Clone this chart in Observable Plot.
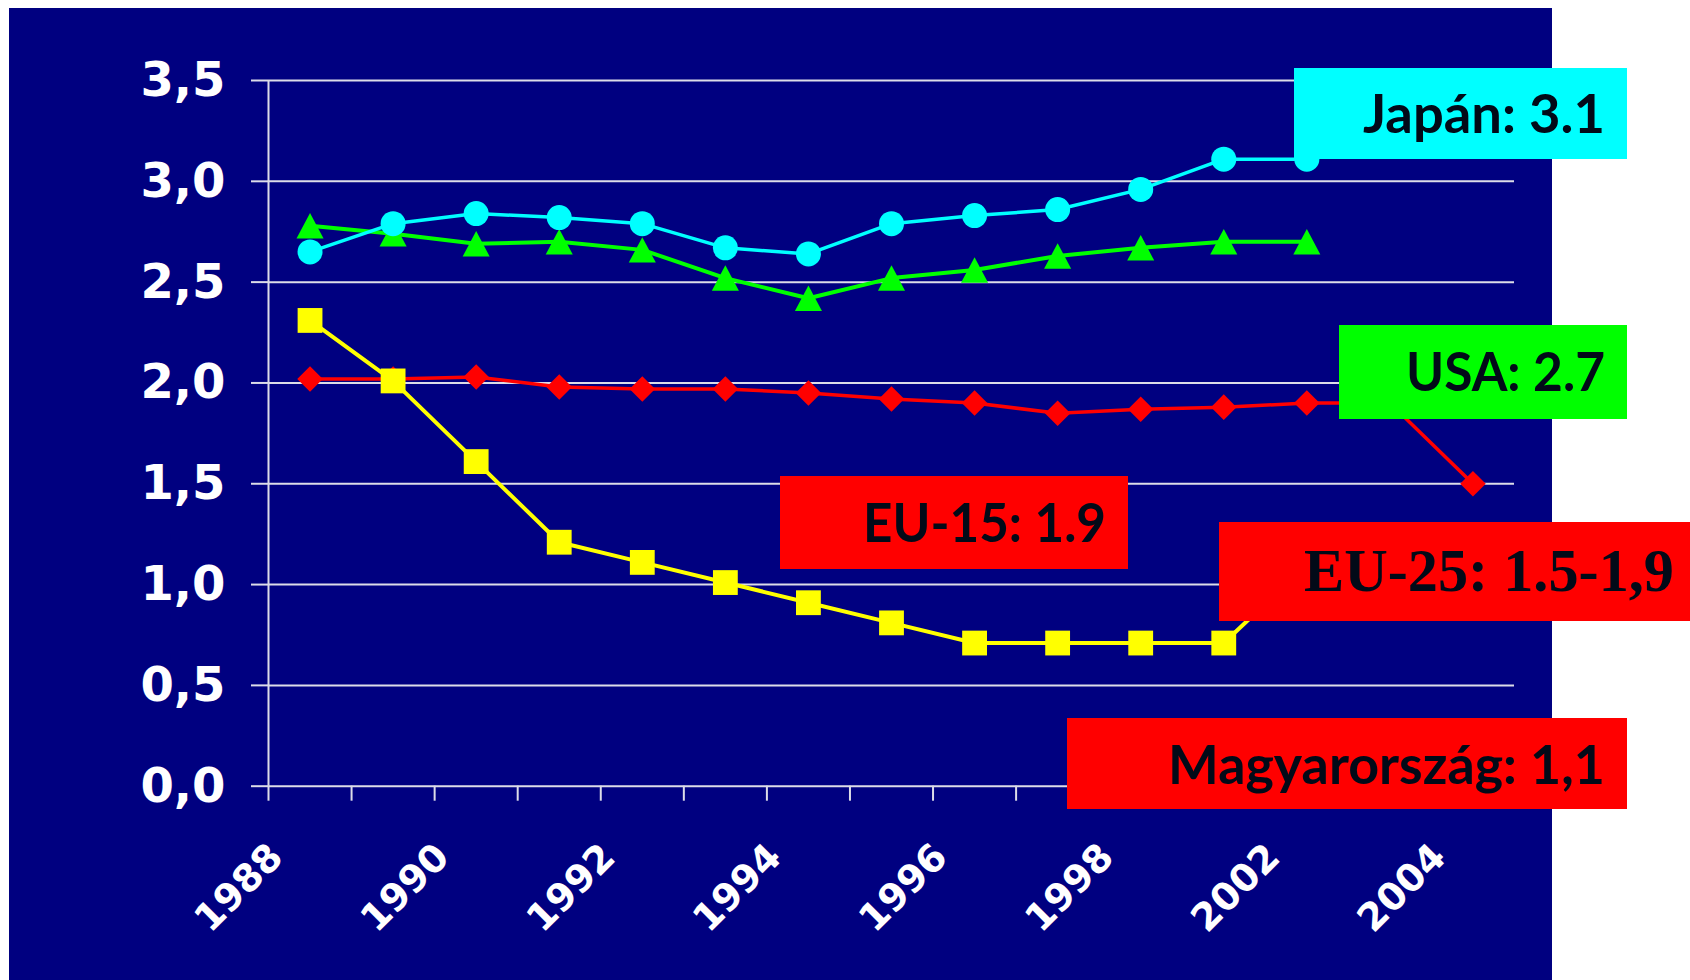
<!DOCTYPE html>
<html>
<head>
<meta charset="utf-8">
<script src="https://cdn.jsdelivr.net/npm/d3@7"></script>
<script src="https://cdn.jsdelivr.net/npm/@observablehq/plot@0.6"></script>
<style>
  html, body { margin: 0; padding: 0; background: #ffffff; width: 1690px; height: 980px; overflow: hidden; }
  #bg { position: absolute; left: 9px; top: 8px; width: 1543px; height: 972px; background: #000080; }
  #chart { position: absolute; left: 0; top: 0; }
  #callouts { position: absolute; left: 0; top: 0; }
</style>
</head>
<body>
<div id="bg"></div>
<div id="chart"></div>
<svg id="callouts" width="1690" height="980"></svg>
<script>
// ---- data ----
const categories = ["1988","1989","1990","1991","1992","1993","1994","1995","1996","1997","1998","2000","2002","2003","2004"];
const tickLabels = ["1988","1990","1992","1994","1996","1998","2002","2004"];
const japan   = [2.65, 2.79, 2.84, 2.82, 2.79, 2.67, 2.64, 2.79, 2.83, 2.86, 2.96, 3.11, 3.11];
const usa     = [2.78, 2.74, 2.69, 2.70, 2.66, 2.52, 2.42, 2.52, 2.56, 2.63, 2.67, 2.70, 2.70];
const eu15    = [2.02, 2.02, 2.03, 1.98, 1.97, 1.97, 1.95, 1.92, 1.90, 1.85, 1.87, 1.88, 1.90, 1.90, 1.50];
const hungary = [2.31, 2.01, 1.61, 1.21, 1.11, 1.01, 0.91, 0.81, 0.71, 0.71, 0.71, 0.71, 1.10];
const yTicks = [0, 0.5, 1, 1.5, 2, 2.5, 3, 3.5];
const yTickLabels = ["0,0","0,5","1,0","1,5","2,0","2,5","3,0","3,5"];
const calloutTexts = ["Japán: 3.1", "USA: 2.7", "EU-15: 1.9", "EU-25: 1.5-1,9", "Magyarország: 1,1"];
const calloutColors = ["#00ffff", "#00ff00", "#ff0000", "#ff0000", "#ff0000"];

// ---- helpers ----
const rows = arr => arr.map((v, i) => ({x: i + 0.5, v}));
const grid = "#dcdce8";
const triangle = {
  draw(ctx, size) {
    const r = Math.sqrt(size / Math.PI);
    const w = r * 1.04, h = r * 0.98;
    ctx.moveTo(0, -h); ctx.lineTo(w, h); ctx.lineTo(-w, h); ctx.closePath();
  }
};
const series = [
  {data: usa, color: "#00ff00", symbol: triangle, r: 13, sw: 4},
  {data: japan, color: "#00ffff", symbol: "circle", r: 12.5, sw: 3.5},
  {data: eu15, color: "#ff0000", symbol: "diamond2", r: 11.5, sw: 3.5},
  {data: hungary, color: "#ffff00", symbol: "square", r: 14, sw: 4}
];

const chart = Plot.plot({
  width: 1690,
  height: 980,
  marginLeft: 268,
  marginRight: 176,
  marginTop: 80,
  marginBottom: 194.3,
  style: {background: "transparent", color: "white", overflow: "visible", fontFamily: "DejaVu Sans", fontWeight: "bold"},
  x: {domain: [0, categories.length]},
  y: {domain: [0, 3.5]},
  marks: [
    Plot.ruleY(yTicks, {stroke: grid, strokeWidth: 2}),
    Plot.axisY(yTicks, {
      tickSize: 17, tickPadding: 26, stroke: grid, strokeWidth: 2, label: null,
      tickFormat: d => yTickLabels[yTicks.indexOf(d)],
      fontSize: 48, fontWeight: "bold", fontFamily: "DejaVu Sans", fill: "white"
    }),
    Plot.ruleX([0], {stroke: grid, strokeWidth: 2}),
    Plot.axisX(d3.range(categories.length + 1), {
      tickSize: 15, stroke: grid, strokeWidth: 2, label: null, tickFormat: () => ""
    }),
    Plot.text(tickLabels, {
      x: d => categories.indexOf(d) + 0.5, frameAnchor: "bottom", text: d => d,
      rotate: -45, textAnchor: "end", lineAnchor: "bottom", dx: -25, dy: 73,
      fontSize: 38, fontWeight: "bold", fontFamily: "DejaVu Sans", fill: "white"
    }),
    ...series.flatMap(s => [
      Plot.line(rows(s.data), {x: "x", y: "v", stroke: s.color, strokeWidth: s.sw}),
      Plot.dot(rows(s.data), {x: "x", y: "v", symbol: s.symbol, r: s.r, fill: s.color, stroke: null})
    ])
  ]
});
document.getElementById("chart").append(chart);

// ---- callout boxes (annotation layout) ----
const layout = [
  {box: [1294, 68, 1627, 159], tx: [1363, 1605], base: 133, font: "Lato", size: 53},
  {box: [1339, 325, 1627, 419], tx: [1406, 1605], base: 391, font: "Lato", size: 53},
  {box: [780, 476, 1128, 569], tx: [863, 1106], base: 542, font: "Lato", size: 53},
  {box: [1219, 522, 1690, 621], tx: [1304, 1674], base: 591, font: "Liberation Serif", size: 62},
  {box: [1067, 718, 1627, 809], tx: [1168, 1605], base: 784, font: "Lato", size: 53}
];
const svg = d3.select("#callouts");
calloutTexts.forEach((t, i) => {
  const L = layout[i];
  svg.append("rect")
    .attr("x", L.box[0]).attr("y", L.box[1])
    .attr("width", L.box[2] - L.box[0]).attr("height", L.box[3] - L.box[1])
    .attr("fill", calloutColors[i]);
  svg.append("text")
    .attr("x", L.tx[0]).attr("y", L.base)
    .attr("textLength", L.tx[1] - L.tx[0]).attr("lengthAdjust", "spacingAndGlyphs")
    .attr("font-family", L.font).attr("font-size", L.size).attr("font-weight", "bold")
    .attr("fill", "#020a18")
    .text(t);
});
</script>
</body>
</html>
